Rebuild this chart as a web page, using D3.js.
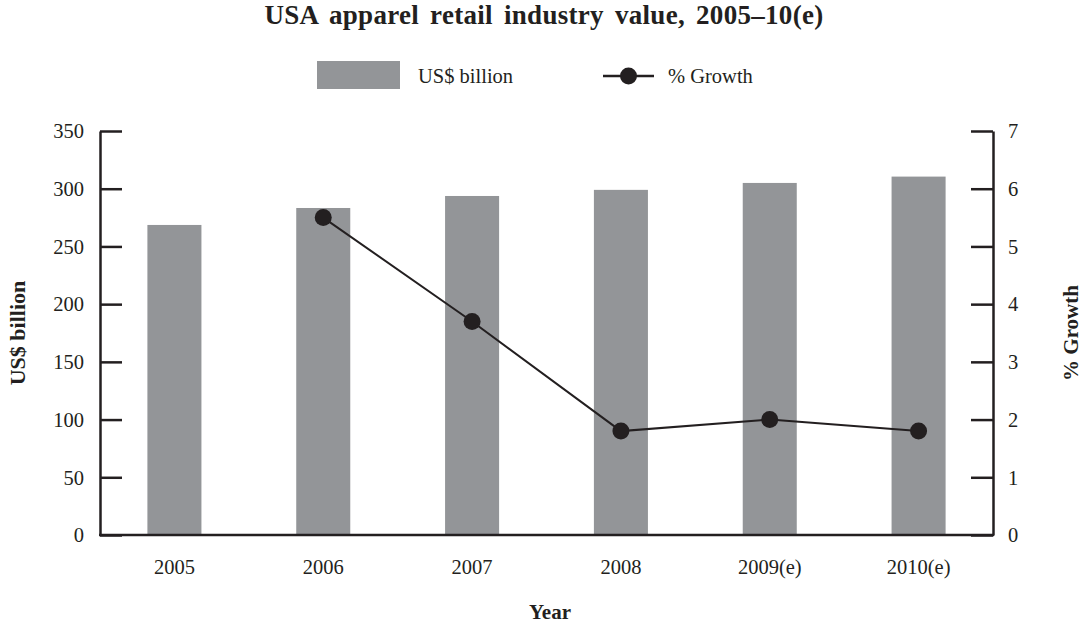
<!DOCTYPE html>
<html>
<head>
<meta charset="utf-8">
<script src="https://cdn.jsdelivr.net/npm/d3@7"></script>
<style>
  html, body { margin: 0; padding: 0; background: #fff; }
  svg { display: block; font-family: "Liberation Serif", "Times New Roman", serif; }
</style>
</head>
<body>
<svg id="chart" width="1084" height="624"></svg>
<script>
// Industry value by year, with year-on-year growth
const years = ["2005", "2006", "2007", "2008", "2009(e)", "2010(e)"];
const valueBillion = [268.6, 283.3, 293.7, 299.0, 305.0, 310.5];
const growthPct = [null, 5.5, 3.7, 1.8, 2.0, 1.8];
const leftTicks = [0, 50, 100, 150, 200, 250, 300, 350];
const rightTicks = [0, 1, 2, 3, 4, 5, 6, 7];

const ink = "#231f20";
const barFill = "#939598";
const serif = "Liberation Serif, Times New Roman, serif";

const svg = d3.select("#chart");
const margin = { left: 100, right: 91, top: 131, bottom: 89 };
const W = 1084, H = 624;
const x0 = margin.left, x1 = W - margin.right;
const y0 = H - margin.bottom, y1 = margin.top;

const x = d3.scaleBand().domain(years).range([x0, x1]).paddingInner(0.637).paddingOuter(0.3185);
const yL = d3.scaleLinear().domain([0, 350]).range([y0, y1]);
const yR = d3.scaleLinear().domain([0, 7]).range([y0, y1]);

// Title
svg.append("text")
  .attr("x", 544).attr("y", 24)
  .attr("text-anchor", "middle")
  .attr("font-size", 27).attr("font-weight", "bold").attr("fill", ink)
  .attr("word-spacing", 4).attr("letter-spacing", 0.3)
  .text("USA apparel retail industry value, 2005\u201310(e)");

// Legend
const lg = svg.append("g");
lg.append("rect").attr("x", 317).attr("y", 61).attr("width", 83).attr("height", 28).attr("fill", barFill);
lg.append("text").attr("x", 418).attr("y", 83).attr("font-size", 20.5).attr("fill", ink).text("US$ billion");
lg.append("line").attr("x1", 603).attr("x2", 654).attr("y1", 76).attr("y2", 76)
  .attr("stroke", ink).attr("stroke-width", 2.5);
lg.append("circle").attr("cx", 628.5).attr("cy", 76).attr("r", 8.5).attr("fill", ink);
lg.append("text").attr("x", 668).attr("y", 83).attr("font-size", 20.5).attr("fill", ink).text("% Growth");

// Bars
svg.append("g").selectAll("rect")
  .data(years.map((y, i) => ({ year: y, v: valueBillion[i] })))
  .join("rect")
  .attr("x", d => x(d.year))
  .attr("width", x.bandwidth())
  .attr("y", d => yL(d.v))
  .attr("height", d => yL(0) - yL(d.v))
  .attr("fill", barFill);

// Growth line
const gData = years.map((y, i) => ({ year: y, g: growthPct[i] })).filter(d => d.g !== null);
const line = d3.line().x(d => x(d.year) + x.bandwidth() / 2).y(d => yR(d.g));
svg.append("path").datum(gData)
  .attr("d", line).attr("fill", "none").attr("stroke", ink).attr("stroke-width", 2);
svg.append("g").selectAll("circle").data(gData).join("circle")
  .attr("cx", d => x(d.year) + x.bandwidth() / 2)
  .attr("cy", d => yR(d.g))
  .attr("r", 8.5).attr("fill", ink);

// Axes
function styleAxis(g) {
  g.selectAll("path, line").attr("stroke", ink).attr("stroke-width", 2.5);
  g.selectAll("text").attr("fill", ink).attr("font-size", 20.5).attr("font-family", serif);
}

const leftAxis = svg.append("g").attr("transform", `translate(${x0},0)`)
  .call(d3.axisLeft(yL).tickValues(leftTicks).tickFormat(d3.format("d"))
    .tickSizeInner(-22).tickSizeOuter(0).tickPadding(16));
styleAxis(leftAxis);
leftAxis.selectAll("text").attr("dy", "0.33em");

const rightAxis = svg.append("g").attr("transform", `translate(${x1},0)`)
  .call(d3.axisRight(yR).tickValues(rightTicks).tickFormat(d3.format("d"))
    .tickSizeInner(-22).tickSizeOuter(0).tickPadding(15));
styleAxis(rightAxis);
rightAxis.selectAll("text").attr("dy", "0.33em");

const bottomAxis = svg.append("g").attr("transform", `translate(0,${y0})`)
  .call(d3.axisBottom(x).tickSize(0).tickPadding(24));
styleAxis(bottomAxis);
bottomAxis.select(".domain").attr("d", `M${x0 - 1},0H${x1 + 1}`);

// Axis titles
svg.append("text")
  .attr("transform", `translate(25,${(y0 + y1) / 2}) rotate(-90)`)
  .attr("text-anchor", "middle")
  .attr("font-size", 22).attr("font-weight", "bold").attr("fill", ink)
  .text("US$ billion");

svg.append("text")
  .attr("transform", `translate(1078,${(y0 + y1) / 2}) rotate(-90)`)
  .attr("text-anchor", "middle")
  .attr("font-size", 21).attr("font-weight", "bold").attr("fill", ink)
  .text("% Growth");

svg.append("text")
  .attr("x", 550).attr("y", 619)
  .attr("text-anchor", "middle")
  .attr("font-size", 21).attr("font-weight", "bold").attr("fill", ink)
  .text("Year");
</script>
</body>
</html>
